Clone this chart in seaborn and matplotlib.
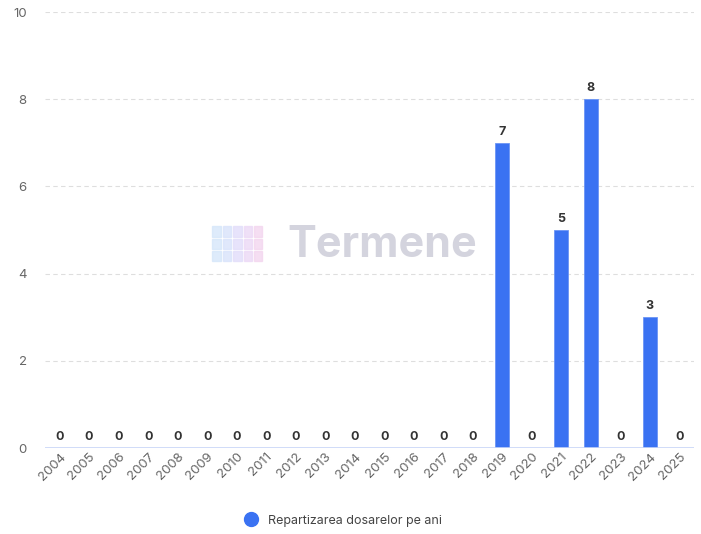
import matplotlib
matplotlib.use("Agg")
import matplotlib.pyplot as plt
import seaborn as sns
import pandas as pd
from matplotlib.lines import Line2D

years = [str(y) for y in range(2004, 2026)]
counts = [0, 0, 0, 0, 0, 0, 0, 0, 0, 0, 0, 0, 0, 0, 0, 7, 0, 5, 8, 0, 3, 0]
series_name = "Repartizarea dosarelor pe ani"

df = pd.DataFrame({"year": years, "count": counts})

sns.set_style("white")
plt.rcParams["font.family"] = ["Inter", "DejaVu Sans"]

fig = plt.figure(figsize=(7.01, 5.34), dpi=100)
ax = fig.add_axes([0.064, 0.161, 0.926, 0.8165])

bar_color = "#3a72f2"
sns.barplot(data=df, x="year", y="count", color=bar_color, width=0.47,
            saturation=1, edgecolor="#6b95f5", linewidth=0.6, ax=ax)

ax.set_ylim(0, 10)
ax.set_xlim(-0.5, len(years) - 0.5)
ax.set_yticks([0, 2, 4, 6, 8, 10])
ax.set_xlabel("")
ax.set_ylabel("")
for y in [2, 4, 6, 8, 10]:
    ax.axhline(y, color="#dedede", linestyle=(0, (4, 3)), linewidth=0.8, zorder=0)
ax.axhline(0, color="#c8d6f7", linewidth=1.2, zorder=1)
for s in ax.spines.values():
    s.set_visible(False)

ax.tick_params(axis="y", length=0, pad=13, labelsize=9.5, labelcolor="#666666")
ax.tick_params(axis="x", length=0, pad=2, labelsize=9.5, labelcolor="#666666")
for lab in ax.get_xticklabels():
    lab.set_rotation(45)
    lab.set_ha("right")
    lab.set_rotation_mode("anchor")

for i, v in enumerate(counts):
    ax.text(i, v + 0.12, str(v), ha="center", va="bottom", fontsize=9,
            fontweight="bold", color="#333333")

# watermark
fig.text(0.545, 0.54, "Termene", ha="center", va="center", fontsize=31,
         fontweight="bold", color="#d4d4de", zorder=0)
cube_cols = ["#d6e6fa", "#d9e3fb", "#e2ddfa", "#ecd9f6", "#f3d6ef"]
for r in range(3):
    for c in range(5):
        fig.patches.append(plt.Rectangle((0.303 + c * 0.0148, 0.511 + r * 0.023),
                                         0.012, 0.019, transform=fig.transFigure,
                                         color=cube_cols[c], alpha=0.8, zorder=0))

handle = Line2D([], [], marker="o", linestyle="", markersize=10,
                markerfacecolor=bar_color, markeredgecolor=bar_color)
fig.legend([handle], [series_name], loc="center", bbox_to_anchor=(0.485, 0.025),
           frameon=False, fontsize=9, handletextpad=0.4,
           labelcolor="#444444")

fig.savefig("out.png", dpi=100)
